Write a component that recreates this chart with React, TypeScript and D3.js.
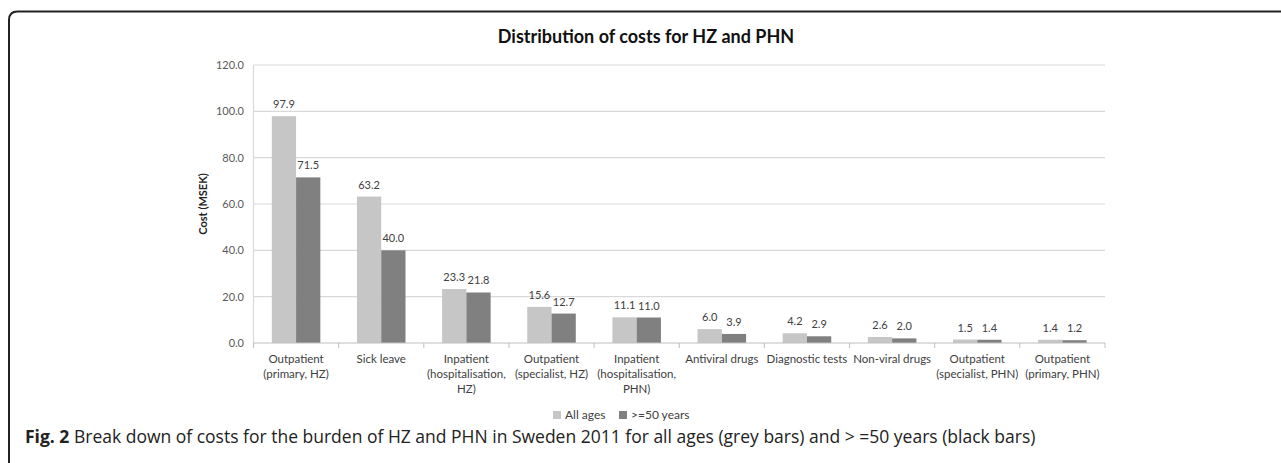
import React, { useEffect } from 'react';
import * as d3 from 'd3';

const categories = [
  'Outpatient (primary, HZ)',
  'Sick leave',
  'Inpatient (hospitalisation, HZ)',
  'Outpatient (specialist, HZ)',
  'Inpatient (hospitalisation, PHN)',
  'Antiviral drugs',
  'Diagnostic tests',
  'Non-viral drugs',
  'Outpatient (specialist, PHN)',
  'Outpatient (primary, PHN)'
];
const categoryLines = [
  ['Outpatient', '(primary, HZ)'],
  ['Sick leave'],
  ['Inpatient', '(hospitalisation,', 'HZ)'],
  ['Outpatient', '(specialist, HZ)'],
  ['Inpatient', '(hospitalisation,', 'PHN)'],
  ['Antiviral drugs'],
  ['Diagnostic tests'],
  ['Non-viral drugs'],
  ['Outpatient', '(specialist, PHN)'],
  ['Outpatient', '(primary, PHN)']
];
const allAges = [97.9, 63.2, 23.3, 15.6, 11.1, 6.0, 4.2, 2.6, 1.5, 1.4];
const over50 = [71.5, 40.0, 21.8, 12.7, 11.0, 3.9, 2.9, 2.0, 1.4, 1.2];
const seriesNames = ['All ages', '>=50 years'];
const yTicks = [0, 20, 40, 60, 80, 100, 120];

const W = 1281;
const H = 463;
const colors = ['#c6c6c6', '#808080'];
const font = 'Lato, "Open Sans", sans-serif';

const App: React.FC = () => {
  useEffect(() => {
    document.body.style.margin = '0';
  }, []);

  const left = 253.5;
  const right = 1105;
  // outer band = category slot, inner band = the two bars side by side
  const x = d3.scaleBand<string>()
    .domain(categories)
    .range([left, right])
    .paddingInner(0.43)
    .paddingOuter(0.215);
  const x0 = d3.scaleBand<string>().domain(categories).range([left, right]);
  const step = x0.step();
  const xs = d3.scaleBand<number>().domain([0, 1]).range([0, x.bandwidth()]);
  const y = d3.scaleLinear().domain([0, 120]).range([343, 65]);
  const fmt = d3.format('.1f');
  const series = [allAges, over50];

  return (
    <svg width={W} height={H} style={{ display: 'block', background: '#fff' }}>
      {/* frame */}
      <path d={`M9,${H + 2} L9,20 Q9,11.5 17.5,11.5 L${W + 2},11.5`} fill="none" stroke="#222" strokeWidth={2} />

      <text x={646} y={43} textAnchor="middle" fontFamily={font} fontWeight="bold" fontSize={18} fill="#111">
        Distribution of costs for HZ and PHN
      </text>

      {/* grid */}
      {yTicks.filter(t => t > 0).map(t => (
        <line key={t} x1={left} x2={right} y1={y(t)} y2={y(t)} stroke="#d9d9d9" strokeWidth={1.2} />
      ))}
      {yTicks.map(t => (
        <text key={'l' + t} x={244} y={y(t) + 4} textAnchor="end" fontFamily={font} fontSize={11} fill="#595959">
          {fmt(t)}
        </text>
      ))}
      <line x1={left} x2={left} y1={65} y2={343} stroke="#d9d9d9" strokeWidth={1.2} />

      <text transform={`translate(207,${y(60)}) rotate(-90)`} textAnchor="middle" fontFamily={font} fontWeight="bold" fontSize={11} fill="#222">
        Cost (MSEK)
      </text>

      {/* bars */}
      {categories.map((c, i) => (
        <g key={c} transform={`translate(${x(c)},0)`}>
          {series.map((s, k) => (
            <g key={k}>
              <rect x={xs(k)} y={y(s[i])} width={xs.bandwidth()} height={y(0) - y(s[i])} fill={colors[k]} />
              <text x={(xs(k) as number) + xs.bandwidth() / 2} y={y(s[i]) - 8} textAnchor="middle" fontFamily={font} fontSize={11} fill="#404040">
                {fmt(s[i])}
              </text>
            </g>
          ))}
        </g>
      ))}

      {/* x axis */}
      <line x1={left} x2={right} y1={y(0)} y2={y(0)} stroke="#bfbfbf" strokeWidth={1.2} />
      {categories.map(c => (
        <line key={'t' + c} x1={x0(c) as number} x2={x0(c) as number} y1={y(0)} y2={y(0) + 5} stroke="#bfbfbf" />
      ))}
      <line x1={right} x2={right} y1={y(0)} y2={y(0) + 5} stroke="#bfbfbf" />
      {categories.map((c, i) => (
        <text key={'c' + c} x={(x0(c) as number) + step / 2} y={363} textAnchor="middle" fontFamily={font} fontSize={11.5} fill="#404040">
          {categoryLines[i].map((ln, j) => (
            <tspan key={j} x={(x0(c) as number) + step / 2} dy={j === 0 ? 0 : 15}>{ln}</tspan>
          ))}
        </text>
      ))}

      {/* legend */}
      <g transform="translate(553,419)">
        <rect x={0} y={-8} width={8} height={8} fill={colors[0]} />
        <text x={12} y={0} fontFamily={font} fontSize={12} fill="#404040">{seriesNames[0]}</text>
        <rect x={66} y={-8} width={8} height={8} fill={colors[1]} />
        <text x={78} y={0} fontFamily={font} fontSize={12} fill="#404040">{seriesNames[1]}</text>
      </g>

      {/* caption */}
      <text x={25} y={443} fontFamily={'"Open Sans", sans-serif'} fontSize={17.5} fill="#222">
        <tspan fontWeight="bold">Fig. 2</tspan>
        <tspan> Break down of costs for the burden of HZ and PHN in Sweden 2011 for all ages (grey bars) and &gt; =50 years (black bars)</tspan>
      </text>
    </svg>
  );
};

export default App;
